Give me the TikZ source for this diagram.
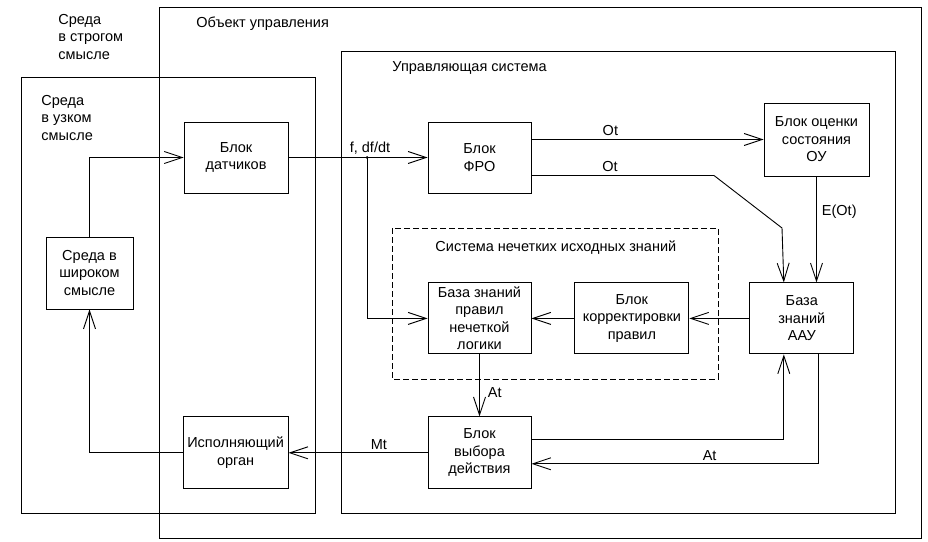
\documentclass[tikz,border=0pt]{standalone}
\usepackage{fontspec}
\setmainfont{Liberation Sans}
\usepackage{tikz}
\usetikzlibrary{arrows.meta, positioning, calc}

\begin{document}
\begin{tikzpicture}[
  x=1pt, y=-1pt,
  line width=0.9pt,
  every node/.style={font=\fontsize{14.5}{17.5}\selectfont},
  box/.style={draw, align=center, inner sep=1pt,
              minimum width=104pt, minimum height=71pt},
  frame/.style={draw},
  txt/.style={align=left, inner sep=0pt, anchor=west},
  lbl/.style={inner sep=3pt},
  arr/.style={-{Straight Barb[length=18pt, width=12pt]}}
]
\useasboundingbox (0,0) rectangle (928,541);

% frames
\draw[frame] (159,7) rectangle (921,538);
\draw[frame] (21,77) rectangle (315,513);
\draw[frame] (341,51) rectangle (895,513);
\draw[frame, dash pattern=on 6pt off 3pt] (392,228) rectangle (718,379);

\node[txt] (strict) at (58,37) {Среда\\в строгом\\смысле};
\node[txt] (object) at (196,24) {Объект управления};
\node[txt] (narrow) at (41,118) {Среда\\в узком\\смысле};
\node[txt] (control) at (392,68) {Управляющая система};
\node[txt] (fuzzy) at (435,248) {Система нечетких исходных знаний};

% blocks
\node[box, minimum width=103pt] (fro) at (479.5,157.5) {Блок\\ФРО};
\node[box, left=139pt of fro] (sensors) {Блок\\датчиков};
\node[box, minimum width=105pt, minimum height=73pt] (eval) at (816.5,139.5)
  {Блок оценки\\состояния\\ОУ};
\node[box, minimum width=103pt, below=89pt of fro] (rules)
  {База знаний\\правил\\нечеткой\\логики};
\node[box, minimum width=114pt, right=43pt of rules] (corr)
  {Блок\\корректировки\\правил};
\node[box, right=60pt of corr] (aau) {База\\знаний\\ААУ};
\node[box, minimum width=103pt, minimum height=72pt, below=62pt of rules] (choice)
  {Блок\\выбора\\действия};
\node[box, minimum width=105pt, minimum height=72pt, left=139pt of choice] (act)
  {Исполняющий\\орган};
\node[box, minimum width=87pt, minimum height=72pt] (env) at (89.5,273)
  {Среда в\\широком\\смысле};

% connectors
\coordinate (jn) at (367,157.5);
\coordinate (bend) at (714,175.5);
\coordinate (knee) at (782,228);
\draw[arr] (env.north) |- (sensors.west);
\draw[arr] (sensors.east) -- (fro.west);
\fill (jn) circle (1.5pt);
\node[lbl, above, xshift=3pt] (fdf) at (jn) {f, df/dt};
\draw[arr] (jn) |- (rules.west);
\draw[arr] (fro.east |- eval.west) -- node[lbl, above, pos=0.34] {Ot} (eval.west);
\draw[arr] ([yshift=-18pt]fro.east) -- node[lbl, above, pos=0.43] {Ot} (bend)
  -- (knee) -- ([xshift=-18pt]aau.north);
\draw[arr] (eval.south) -- node[lbl, right, pos=0.33, xshift=2pt] {E(Ot)} (eval.south |- aau.north);
\draw[arr] (aau) -- (corr);
\draw[arr] (corr) -- (rules);
\draw[arr] (rules) -- node[lbl, right, pos=0.62, xshift=5pt] {At} (choice);
\draw[arr] ([yshift=13pt]choice.east) -| ([xshift=-18pt]aau.south);
\draw[arr] ([xshift=17pt]aau.south) |- node[lbl, above, pos=0.69] {At} ([yshift=-11pt]choice.east);
\draw[arr] (choice.west) -- node[lbl, above, pos=0.35] {Mt} (act.east);
\draw[arr] (act.west) -| (env.south);
\end{tikzpicture}
\end{document}
